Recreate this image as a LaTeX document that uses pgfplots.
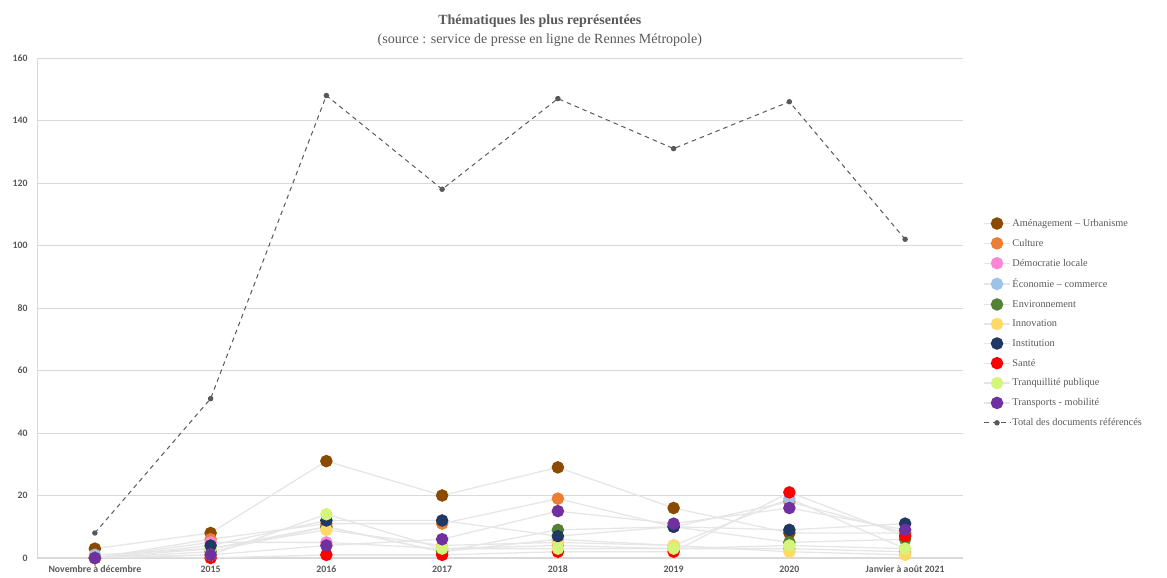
\documentclass[border=0pt]{standalone}
\usepackage{fontspec}
\setmainfont{Liberation Serif}
\newfontfamily\calibri{Carlito}
\usepackage{pgfplots}
\pgfplotsset{compat=1.18}

\definecolor{amen}{HTML}{8A4B00}
\definecolor{cult}{HTML}{ED7D31}
\definecolor{demo}{HTML}{FF85D6}
\definecolor{econ}{HTML}{9DC3E6}
\definecolor{envi}{HTML}{548235}
\definecolor{inno}{HTML}{FFD966}
\definecolor{inst}{HTML}{203864}
\definecolor{sant}{HTML}{FF0000}
\definecolor{tranq}{HTML}{D4F57A}
\definecolor{transp}{HTML}{7030A0}
\definecolor{txtgray}{HTML}{595959}
\definecolor{linegray}{HTML}{E6E6E6}
\definecolor{gridgray}{HTML}{D9D9D9}

\begin{document}
\begin{tikzpicture}
\useasboundingbox (0,0) rectangle (1167pt,578pt);
\begin{axis}[
    at={(37pt,20pt)},
    anchor=south west,
    scale only axis,
    width=926pt,
    height=500pt,
    xmin=-0.5, xmax=7.5,
    ymin=0, ymax=160,
    xtick={0,...,7},
    xticklabels={Novembre à décembre,2015,2016,2017,2018,2019,2020,Janvier à août 2021},
    ytick={0,20,...,160},
    axis x line*=bottom,
    axis y line*=left,
    x axis line style={gridgray, line width=1pt},
    y axis line style={gridgray, line width=0.8pt},
    ymajorgrids,
    grid style={gridgray, line width=0.8pt},
    major tick length=0pt,
    tick style={draw=none},
    ticklabel style={font=\calibri\bfseries\fontsize{9.8}{11}\selectfont, text=txtgray},
    yticklabel style={anchor=east, xshift=-6pt},
    xticklabel style={yshift=-4pt, text depth=0pt, text height=7pt},
    /pgf/number format/assume math mode=true,
    title={\textbf{Thématiques les plus représentées}\\(source : service de presse en ligne de Rennes Métropole)},
    title style={align=center, font=\fontsize{14}{19}\selectfont, text=txtgray, at={(0.543,1)}, anchor=south, yshift=2pt},
    legend style={draw=none, fill=none, at={(1.022,0.682)}, anchor=north west,
        font=\fontsize{10.3}{12}\selectfont, text=txtgray, row sep=7.2pt,
        legend cell align=left, inner sep=0pt},
    legend image code/.code={\draw[mark repeat=2,mark phase=2] plot coordinates {(0cm,0cm)(0.45cm,0cm)(0.9cm,0cm)};},
    every axis plot/.append style={line width=1.3pt},
    mark size=5.6pt,
]
\addplot[linegray, mark=*, mark options={draw=amen, fill=amen}] coordinates {(0,3)(1,8)(2,31)(3,20)(4,29)(5,16)(6,8)(7,8)};
\addlegendentry{Aménagement – Urbanisme}
\addplot[linegray, mark=*, mark options={draw=cult, fill=cult}] coordinates {(0,0)(1,6)(2,11)(3,11)(4,19)(5,10)(6,18)(7,8)};
\addlegendentry{Culture}
\addplot[linegray, mark=*, mark options={draw=demo, fill=demo}] coordinates {(0,0)(1,5)(2,5)(3,3)(4,4)(5,3)(6,3)(7,2)};
\addlegendentry{Démocratie locale}
\addplot[linegray, mark=*, mark options={draw=econ, fill=econ}] coordinates {(0,1)(1,3)(2,10)(3,2)(4,6)(5,4)(6,19)(7,3)};
\addlegendentry{Économie – commerce}
\addplot[linegray, mark=*, mark options={draw=envi, fill=envi}] coordinates {(0,0)(1,2)(2,10)(3,2)(4,9)(5,10)(6,5)(7,6)};
\addlegendentry{Environnement}
\addplot[linegray, mark=*, mark options={draw=inno, fill=inno}] coordinates {(0,0)(1,3)(2,9)(3,4)(4,5)(5,4)(6,2)(7,1)};
\addlegendentry{Innovation}
\addplot[linegray, mark=*, mark options={draw=inst, fill=inst}] coordinates {(0,0)(1,4)(2,12)(3,12)(4,7)(5,10)(6,9)(7,11)};
\addlegendentry{Institution}
\addplot[linegray, mark=*, mark options={draw=sant, fill=sant}] coordinates {(0,0)(1,0)(2,1)(3,1)(4,2)(5,2)(6,21)(7,7)};
\addlegendentry{Santé}
\addplot[linegray, mark=*, mark options={draw=tranq, fill=tranq}] coordinates {(0,0)(1,1)(2,14)(3,3)(4,3)(5,3)(6,4)(7,3)};
\addlegendentry{Tranquillité publique}
\addplot[linegray, mark=*, mark options={draw=transp, fill=transp}] coordinates {(0,0)(1,1)(2,4)(3,6)(4,15)(5,11)(6,16)(7,9)};
\addlegendentry{Transports - mobilité}
\addplot[txtgray, line width=1pt, dash pattern=on 4.5pt off 4pt, mark=*, mark size=2.2pt, mark options={solid, fill=txtgray}] coordinates {(0,8)(1,51)(2,148)(3,118)(4,147)(5,131)(6,146)(7,102)};
\addlegendentry{Total des documents référencés}
\end{axis}
\end{tikzpicture}
\end{document}
